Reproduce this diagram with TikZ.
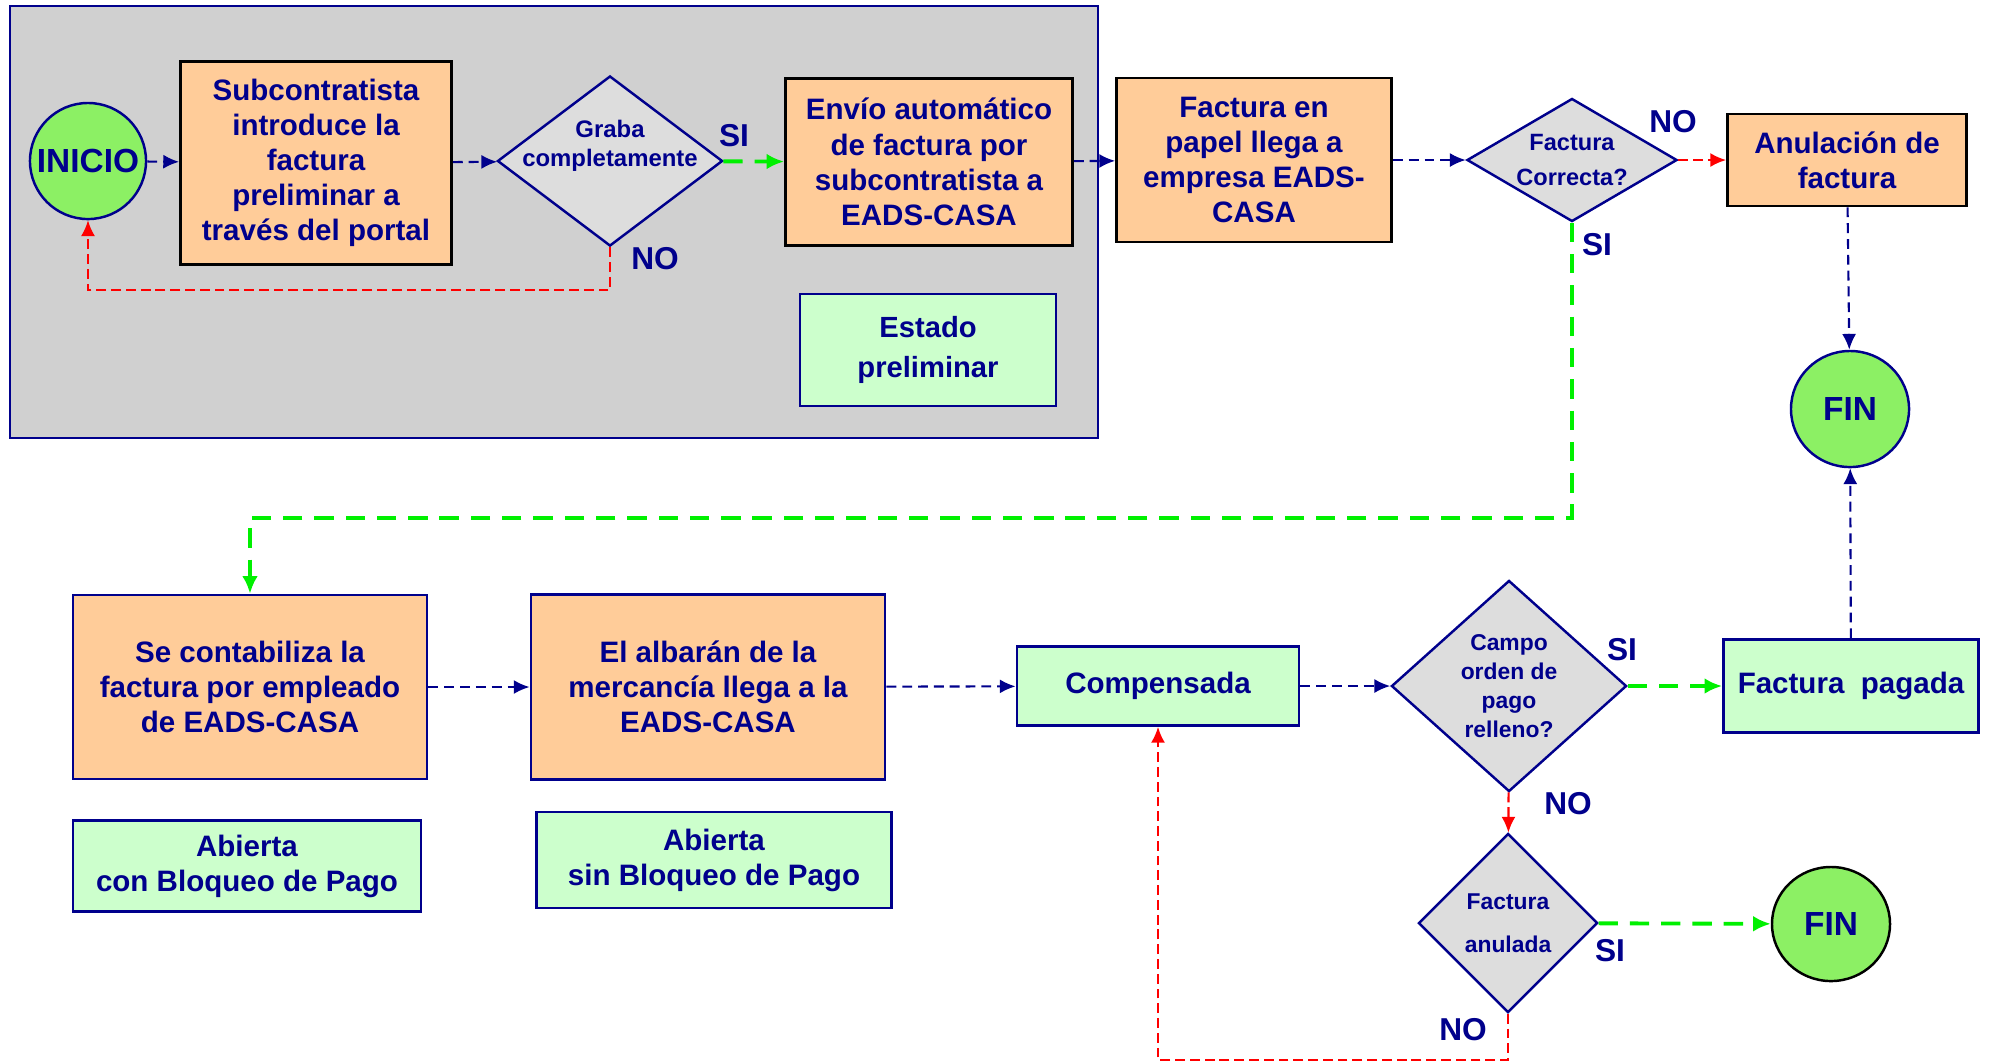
\documentclass[tikz,border=0pt]{standalone}
\usepackage{fontspec}
\setmainfont{Liberation Sans}
\usetikzlibrary{shapes.geometric,arrows.meta}

\definecolor{ink}{RGB}{0,0,140}
\definecolor{peach}{RGB}{255,204,153}
\definecolor{mint}{RGB}{204,255,204}
\definecolor{bulb}{RGB}{140,240,100}
\definecolor{panel}{RGB}{208,208,208}
\definecolor{dgray}{RGB}{221,221,221}
\definecolor{okgreen}{RGB}{0,240,0}
\definecolor{nored}{RGB}{255,0,0}

\newcommand{\fsize}[2]{\fontsize{#1}{#2}\selectfont\bfseries}

\begin{document}
\begin{tikzpicture}[x=0.01cm,y=-0.01cm,
	proc/.style={draw=black, line width=0.75pt, fill=peach, text=ink, align=center, inner sep=0pt, font=\fsize{8.4}{10}},
	state/.style={draw=ink, line width=0.75pt, fill=mint, text=ink, align=center, inner sep=0pt, font=\fsize{8.4}{10}},
	ends/.style={ellipse, draw=ink, line width=0.7pt, fill=bulb, inner sep=0pt},
	endtext/.style={text=ink, inner sep=0pt, font=\fsize{9.5}{11}},
	ask/.style={diamond, draw=ink, line width=0.7pt, fill=dgray, inner sep=0pt},
	asktext/.style={text=ink, align=center, inner sep=0pt},
	answer/.style={text=ink, font=\fsize{9}{10}},
	goflow/.style={draw=ink, line width=0.6pt, dash pattern=on 2.8pt off 1.7pt, -{Latex[length=4.5pt,width=4pt]}},
	yesflow/.style={draw=okgreen, line width=1.1pt, dash pattern=on 5.5pt off 3.4pt, -{Latex[length=5pt,width=4.5pt]}},
	noflow/.style={draw=nored, line width=0.6pt, dash pattern=on 2.8pt off 1.4pt, -{Latex[length=4.5pt,width=4pt]}}]
		\useasboundingbox (0,0) rectangle (1991,1062);
		
		% preliminary stage
		\draw[ink, line width=0.7pt, fill=panel] (10,6) rectangle (1098,438);
		
		\node[ends, minimum width=1.16cm, minimum height=1.16cm,
			label={[endtext]center:INICIO}] (inicio) at (88,161) {};
		\node[proc, minimum width=2.71cm, minimum height=2.03cm] (subc) at (316,163) {Subcontratista\\introduce la\\factura\\preliminar a\\través del portal};
		\node[ask, minimum width=2.25cm, minimum height=1.70cm,
			label={[asktext, font=\fsize{6.8}{8.3}, yshift=0.15cm]center:{Graba\\completamente}}] (graba) at (610,161) {};
		\node[proc, minimum width=2.87cm, minimum height=1.67cm] (envio) at (929,162) {Envío automático\\de factura por\\subcontratista a\\EADS-CASA};
		\node[state, minimum width=2.56cm, minimum height=1.12cm, font=\fsize{8.3}{11.2}] (estado) at (928,350) {Estado\\preliminar};
		
		\node[answer] (si1) at (734,136) {SI};
		\node[answer] (no1) at (655,259) {NO};
		
		% paper invoice
		\node[proc, minimum width=2.75cm, minimum height=1.64cm] (papel) at (1254,160) {Factura en\\papel llega a\\empresa EADS-\\CASA};
		\node[ask, minimum width=2.10cm, minimum height=1.23cm,
			label={[asktext, font=\fsize{6.7}{10}]center:{Factura\\Correcta?}}] (correcta) at (1572,160) {};
		\node[proc, minimum width=2.39cm, minimum height=0.92cm] (anul) at (1847,160) {Anulación de\\factura};
		\node[ends, minimum width=1.18cm, minimum height=1.16cm,
			label={[endtext]center:FIN}] (fin1) at (1850,409) {};
		
		\node[answer] (no2) at (1673,122) {NO};
		\node[answer] (si2) at (1597,245) {SI};
		
		% bottom row
		\node[proc, draw=ink, minimum width=3.54cm, minimum height=1.84cm] (conta) at (250,687) {Se contabiliza la\\factura por empleado\\de EADS-CASA};
		\node[proc, draw=ink, minimum width=3.54cm, minimum height=1.85cm] (albaran) at (708,687) {El albarán de la\\mercancía llega a la\\EADS-CASA};
		\node[state, minimum width=3.48cm, minimum height=0.91cm] (abcon) at (247,866) {Abierta\\con Bloqueo de Pago};
		\node[state, minimum width=3.55cm, minimum height=0.96cm] (absin) at (714,860) {Abierta\\sin Bloqueo de Pago};
		\node[state, minimum width=2.82cm, minimum height=0.79cm] (comp) at (1158,686) {Compensada};
		\node[ask, minimum width=2.35cm, minimum height=2.11cm,
			label={[asktext, font=\fsize{6.5}{8.2}]center:{Campo\\orden de\\pago\\relleno?}}] (campo) at (1509,686) {};
		\node[state, minimum width=2.55cm, minimum height=0.93cm] (pagada) at (1851,686) {Factura~ pagada};
		\node[ask, minimum width=1.79cm, minimum height=1.79cm,
			label={[asktext, font=\fsize{6.5}{12.3}]center:{Factura\\anulada}}] (anulada) at (1508,923) {};
		\node[ends, draw=black, minimum width=1.18cm, minimum height=1.14cm,
			label={[endtext]center:FIN}] (fin2) at (1831,924) {};
		
		\node[answer] (si3) at (1622,650) {SI};
		\node[answer] (no3) at (1568,804) {NO};
		\node[answer] (si4) at (1610,951) {SI};
		\node[answer] (no4) at (1463,1030) {NO};
		
		\coordinate (retry) at (88,290);
		\coordinate (down) at (250,518);
		\coordinate (back) at (1158,1060);
		
		% connectors
		\draw[goflow] (inicio) -- (subc);
		\draw[goflow] (subc) -- (graba);
		\draw[yesflow] (graba) -- (envio);
		\draw[noflow] (graba.south) |- (retry) -- (inicio.south);
		\draw[goflow] (envio) -- (papel);
		\draw[goflow] (papel) -- (correcta);
		\draw[noflow] (correcta) -- (anul);
		\draw[goflow] (anul) -- (fin1);
		\draw[yesflow] (correcta.south) |- (down) -- (conta.north);
		\draw[goflow] (conta) -- (albaran);
		\draw[goflow] (albaran) -- (comp);
		\draw[goflow] (comp) -- (campo);
		\draw[yesflow] (campo) -- (pagada);
		\draw[goflow] (pagada) -- (fin1);
		\draw[noflow] (campo) -- (anulada);
		\draw[yesflow] (anulada) -- (fin2);
		\draw[noflow] (anulada.south) |- (back) -- (comp.south);
	\end{tikzpicture}
\end{document}
